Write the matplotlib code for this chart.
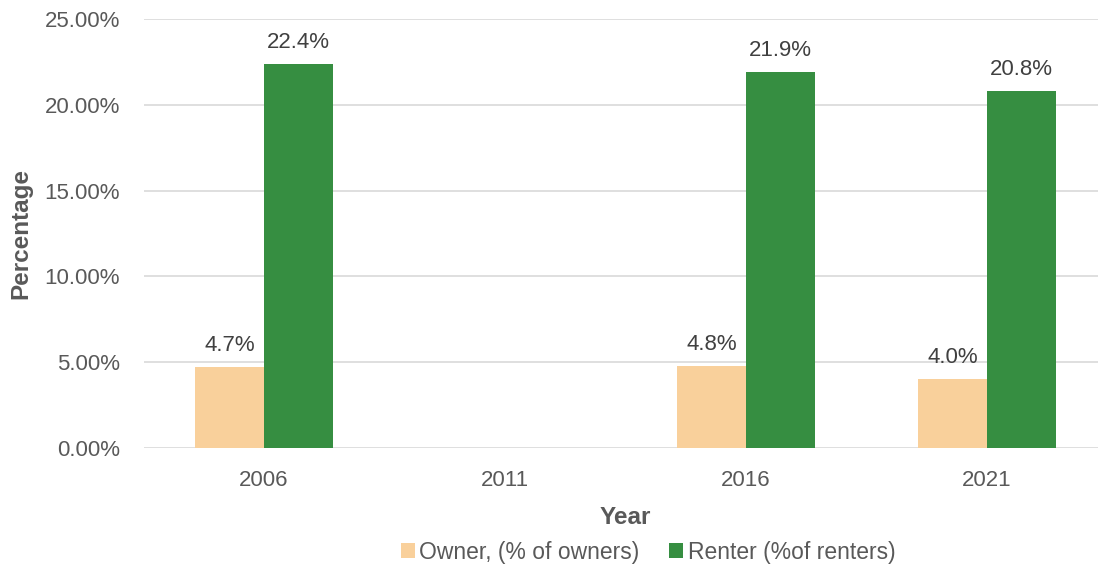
import numpy as np
import matplotlib.pyplot as plt
from matplotlib.ticker import FuncFormatter

years = ['2006', '2011', '2016', '2021']
owner = [4.7, np.nan, 4.8, 4.0]
renter = [22.4, np.nan, 21.9, 20.8]

plt.rcParams['font.family'] = ['Liberation Sans', 'DejaVu Sans']
txt = '#595959'

fig = plt.figure(figsize=(10.98, 5.69), dpi=100)
ax = fig.add_axes([143.5 / 1098, 1 - 448 / 569, 964 / 1098, (448 - 19) / 569])

x = np.arange(len(years))
w = 0.286
b1 = ax.bar(x - w / 2, owner, w, color='#F9D09B', label='Owner, (% of owners)', zorder=3)
b2 = ax.bar(x + w / 2, renter, w, color='#368E41', label='Renter (%of renters)', zorder=3)

# value labels above bars
for bars, vals in [(b1, owner), (b2, renter)]:
    for rect, v in zip(bars, vals):
        if np.isnan(v):
            continue
        ax.annotate(f'{v:.1f}%', (rect.get_x() + rect.get_width() / 2, v),
                    xytext=(0, 8), textcoords='offset points',
                    ha='center', va='bottom', fontsize=16, color='#404040')

ax.set_xlim(-0.5, 3.5)
ax.set_ylim(0, 25)
ax.set_yticks(np.arange(0, 26, 5))
ax.yaxis.set_major_formatter(FuncFormatter(lambda v, p: f'{v:.2f}%'))
ax.set_xticks(x)
ax.set_xticklabels(years)
ax.tick_params(axis='both', length=0, labelsize=16, labelcolor=txt)
ax.tick_params(axis='y', pad=17)
ax.tick_params(axis='x', pad=16)
ax.grid(axis='y', color='#D9D9D9', linewidth=1.2, zorder=0)
for s in ax.spines.values():
    s.set_visible(False)

ax.set_ylabel('Percentage', fontsize=17.5, fontweight='bold', color=txt, labelpad=9)
fig.text(625 / 1098, 1 - 517 / 569, 'Year', ha='center', va='center',
         fontsize=17.5, fontweight='bold', color=txt)

fig.legend(loc='center', bbox_to_anchor=(648 / 1098, 1 - 552 / 569), ncol=2,
           frameon=False, fontsize=16.5, labelcolor=txt, handlelength=0.6,
           handleheight=0.6, handletextpad=0.2, columnspacing=1.3)

fig.savefig('out.png', dpi=100)
